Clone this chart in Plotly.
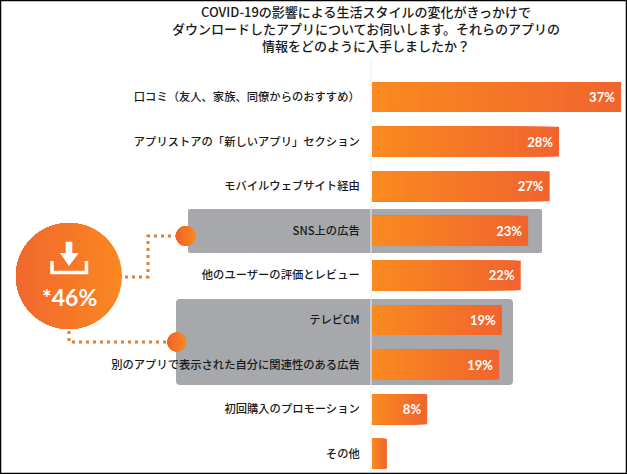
import math
import plotly.graph_objects as go

W, H = 627, 474
BAR_LEFT = 372
PX_PER_PCT = 6.73
ROW0, ROW_STEP = 97.0, 44.6

categories = ["口コミ（友人、家族、同僚からのおすすめ）", "アプリストアの「新しいアプリ」セクション",
              "モバイルウェブサイト経由", "SNS上の広告", "他のユーザーの評価とレビュー",
              "テレビCM", "別のアプリで表示された自分に関連性のある広告", "初回購入のプロモーション", "その他"]
values = [37, 27.8, 26.4, 23.2, 22.1, 19.3, 18.9, 8.2, 2.2]
value_labels = ["37%", "28%", "27%", "23%", "22%", "19%", "19%", "8%", ""]
title_lines = ["COVID-19の影響による生活スタイルの変化がきっかけで",
               "ダウンロードしたアプリについてお伺いします。それらのアプリの",
               "情報をどのように入手しましたか？"]
callout_text = "*46%"

FONT = "Noto Sans CJK JP"
C_START = (250, 139, 31)
C_END = (241, 100, 46)
C_GRAY = "#A6A8AB"


def mix(a, b, t):
    return "rgb(%d,%d,%d)" % tuple(round(a[i] + (b[i] - a[i]) * t) for i in range(3))


def px(x):
    return (x - BAR_LEFT) / (W - BAR_LEFT)


def py(y):
    return 1 - y / H


def P(x, y):
    return f"{px(x):.5f},{py(y):.5f}"


def rounded(x0, y0, x1, y1, r):
    return (f"M{P(x0 + r, y0)} L{P(x1 - r, y0)} Q{P(x1, y0)} {P(x1, y0 + r)} L{P(x1, y1 - r)} "
            f"Q{P(x1, y1)} {P(x1 - r, y1)} L{P(x0 + r, y1)} Q{P(x0, y1)} {P(x0, y1 - r)} "
            f"L{P(x0, y0 + r)} Q{P(x0, y0)} {P(x0 + r, y0)} Z")


def disc_part(cx, cy, r, cut):
    """Left part of a disc, up to the vertical line at x=cut."""
    pts = []
    a0 = math.acos(max(-1, min(1, (cut - cx) / r)))
    n = 40
    for i in range(n + 1):
        a = a0 + (2 * math.pi - 2 * a0) * i / n
        pts.append(P(cx + r * math.cos(a), cy + r * math.sin(a)))
    return "M" + " L".join(pts) + " Z"


def path_shape(path, fill=None, line=None, width=0, dash=None, layer="above"):
    ln = dict(width=width, color=line or "rgba(0,0,0,0)")
    if dash:
        ln["dash"] = dash
    return dict(type="path", xref="paper", yref="paper", path=path, layer=layer,
                fillcolor=fill or "rgba(0,0,0,0)", line=ln)


def gradient_disc(cx, cy, r, left, right, steps=24):
    out = []
    for i in range(steps):
        t = i / (steps - 1)
        cut = cx + r - 2 * r * i / steps
        out.append(path_shape(disc_part(cx, cy, r, cut), fill=mix(left, right, 1 - t)))
    return out


fig = go.Figure()
STEPS = 32
for i in range(STEPS):
    f = 1 - i / STEPS
    fig.add_trace(go.Bar(y=list(range(len(values))), x=[v * f for v in values], orientation="h",
                         width=0.67, marker=dict(color=mix(C_START, C_END, f), line=dict(width=0)),
                         hoverinfo="skip", showlegend=False))
fig.add_trace(go.Bar(y=list(range(len(values))), x=values, orientation="h", width=0.67,
                     marker=dict(color="rgba(0,0,0,0)", line=dict(width=0)),
                     text=[t + "\u00a0" if t else t for t in value_labels],
                     textposition="inside", insidetextanchor="end",
                     textangle=0, constraintext="none",
                     textfont=dict(family="Lato", size=13, color="white", weight="bold"),
                     showlegend=False))

shapes = [
    path_shape(rounded(188, 209, 542, 253, 2), fill=C_GRAY, layer="below"),
    path_shape(rounded(176, 299, 513, 385, 4), fill=C_GRAY, layer="below"),
    dict(type="line", xref="paper", yref="paper", x0=px(371), x1=px(371), y0=py(60), y1=py(474),
         line=dict(color="#E6F0F8", width=1), layer="below"),
    path_shape(f"M{P(125, 277)} L{P(148, 277)} L{P(148, 236)} L{P(176, 236)}",
               line="#E0803A", width=3, dash="3px,4px"),
    path_shape(f"M{P(69, 331)} L{P(69, 342)} L{P(167, 342)}",
               line="#E0803A", width=3, dash="3px,4px"),
]
shapes += gradient_disc(69, 276, 53, (241, 104, 46), (250, 135, 32))
shapes += gradient_disc(186, 236, 10, (241, 100, 40), (250, 135, 32), steps=8)
shapes += gradient_disc(177, 342, 9.5, (241, 100, 40), (250, 135, 32), steps=8)
# download icon
shapes.append(path_shape(
    f"M{P(65.7, 241.7)} L{P(72.3, 241.7)} L{P(72.3, 253)} L{P(78.7, 253)} L{P(69, 266)} "
    f"L{P(60, 253)} L{P(65.7, 253)} Z", fill="white"))
shapes.append(path_shape(f"M{P(52, 261)} L{P(52, 272.5)} L{P(86.5, 272.5)} L{P(86.5, 261)}",
                         line="white", width=3.5))
# outer frame
shapes.append(dict(type="rect", xref="paper", yref="paper", x0=px(0.5), x1=px(626.5), y0=py(473.5),
                   y1=py(0.5), line=dict(color="#000000", width=1.5), fillcolor="rgba(0,0,0,0)", layer="above"))

annotations = [
    dict(xref="paper", yref="paper", x=px(69), y=py(297), text=callout_text, showarrow=False,
         font=dict(family="Lato", size=23, color="white", weight="bold"), xanchor="center", yanchor="middle"),
    dict(xref="paper", yref="paper", x=px(366), y=py(28.5), text="<br>".join(title_lines), showarrow=False,
         align="center", xanchor="center", yanchor="middle",
         font=dict(family=FONT, size=13, color="#1a1a1a", weight=500)),
]

fig.update_layout(
    width=W, height=H, margin=dict(l=BAR_LEFT, r=0, t=0, b=0),
    paper_bgcolor="white", plot_bgcolor="rgba(0,0,0,0)",
    barmode="overlay", showlegend=False, shapes=shapes, annotations=annotations,
    xaxis=dict(range=[0, (W - BAR_LEFT) / PX_PER_PCT], visible=False, fixedrange=True),
    yaxis=dict(range=[(H - ROW0) / ROW_STEP, -ROW0 / ROW_STEP], tickmode="array",
               tickvals=list(range(len(categories))), ticktext=categories,
               ticks="outside", ticklen=9, tickcolor="rgba(0,0,0,0)", showgrid=False,
               zeroline=False, showline=False, fixedrange=True,
               tickfont=dict(family=FONT, size=11.3, color="#1a1a1a", weight=500)),
)
fig.write_html("out.html", config=dict(displayModeBar=False),
               post_script="document.body.style.margin='0';")
